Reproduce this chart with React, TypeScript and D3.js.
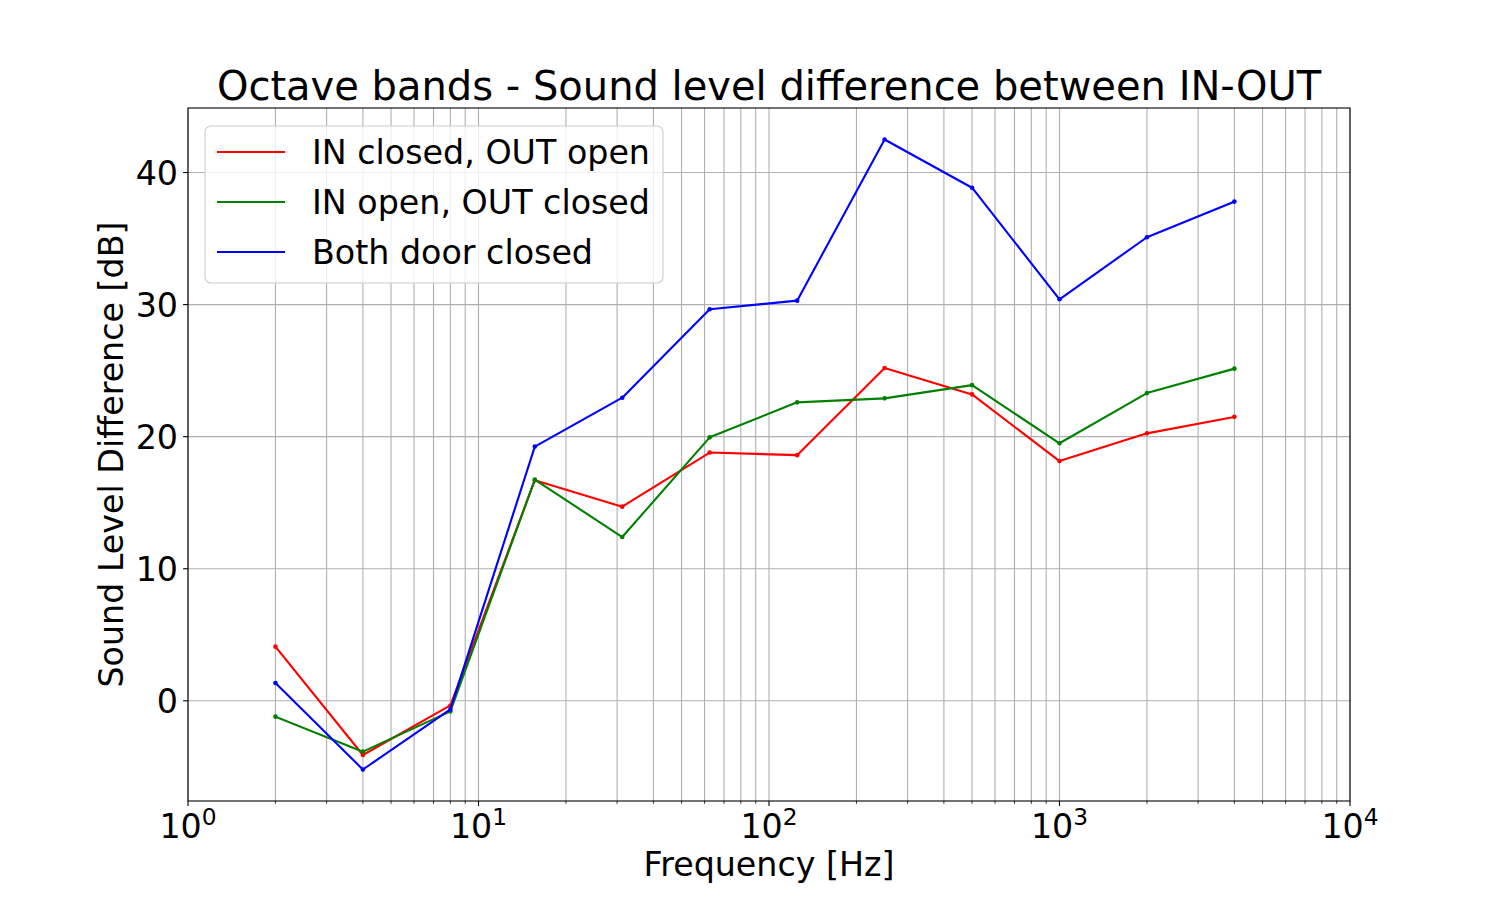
import React, { useEffect, useRef } from 'react';
import * as d3 from 'd3';

// Octave band centre frequencies [Hz]
const frequencies = [2, 4, 8, 15.625, 31.25, 62.5, 125, 250, 500, 1000, 2000, 4000];

// Sound level difference [dB] per configuration
const inClosedOutOpen = [4.1, -4.1, -0.35, 16.7, 14.7, 18.8, 18.6, 25.2, 23.2, 18.15, 20.25, 21.5];
const inOpenOutClosed = [-1.2, -3.85, -0.8, 16.75, 12.4, 19.95, 22.6, 22.9, 23.9, 19.5, 23.3, 25.15];
const bothClosed = [1.35, -5.2, -0.65, 19.25, 22.95, 29.65, 30.3, 42.5, 38.85, 30.4, 35.1, 37.8];

const seriesNames = ['IN closed, OUT open', 'IN open, OUT closed', 'Both door closed'];
const seriesColors = ['#ff0000', '#008000', '#0000ff'];

const xDecades = [1, 10, 100, 1000, 10000];
const yTicks = [0, 10, 20, 30, 40];

const title = 'Octave bands - Sound level difference between IN-OUT';
const xLabel = 'Frequency [Hz]';
const yLabel = 'Sound Level Difference [dB]';

interface Point {
    f: number;
    v: number;
}

const Chart: React.FC = () => {
    const ref = useRef<SVGSVGElement>(null);
    const width = 1500;
    const height = 900;
    const margin = { top: 108, right: 150, bottom: 99, left: 188 };
    const w = width - margin.left - margin.right;
    const h = height - margin.top - margin.bottom;
    const font = '"DejaVu Sans", Verdana, sans-serif';

    useEffect(() => {
        draw();
        //eslint-disable-next-line
    }, []);

    const draw = () => {
        const all = [...inClosedOutOpen, ...inOpenOutClosed, ...bothClosed];
        const lo = d3.min(all) as number;
        const hi = d3.max(all) as number;
        const pad = (hi - lo) * 0.05;

        const x = d3.scaleLog().domain([1, 10000]).range([0, w]);
        const y = d3.scaleLinear().domain([lo - pad, hi + pad]).range([h, 0]);

        const svg = d3.select(ref.current);
        svg.selectAll('*').remove();

        svg.append('rect').attr('width', width).attr('height', height).attr('fill', '#fff');

        const g = svg.append('g').attr('transform', `translate(${margin.left},${margin.top})`);

        // minor + major vertical grid
        const minorTicks: number[] = [];
        xDecades.slice(0, -1).forEach(d => {
            for (let k = 2; k <= 9; k++) minorTicks.push(d * k);
        });
        g.selectAll('.vgrid')
            .data([...minorTicks, ...xDecades])
            .enter().append('line')
            .attr('x1', d => x(d)).attr('x2', d => x(d))
            .attr('y1', 0).attr('y2', h)
            .attr('stroke', '#b0b0b0')
            .attr('stroke-width', 1.1);

        g.selectAll('.hgrid')
            .data(yTicks)
            .enter().append('line')
            .attr('x1', 0).attr('x2', w)
            .attr('y1', d => y(d)).attr('y2', d => y(d))
            .attr('stroke', '#b0b0b0')
            .attr('stroke-width', 1.1);

        // series
        const line = d3.line<Point>()
            .x(d => x(d.f))
            .y(d => y(d.v));

        [inClosedOutOpen, inOpenOutClosed, bothClosed].forEach((vals, i) => {
            const pts: Point[] = frequencies.map((f, j) => ({ f, v: vals[j] }));
            g.append('path')
                .datum(pts)
                .attr('fill', 'none')
                .attr('stroke', seriesColors[i])
                .attr('stroke-width', 2.1)
                .attr('stroke-linejoin', 'round')
                .attr('stroke-linecap', 'square')
                .attr('d', line);
            g.selectAll(null)
                .data(pts)
                .enter().append('circle')
                .attr('cx', d => x(d.f))
                .attr('cy', d => y(d.v))
                .attr('r', 2.3)
                .attr('fill', seriesColors[i]);
        });

        // spines
        g.append('rect')
            .attr('width', w).attr('height', h)
            .attr('fill', 'none')
            .attr('stroke', '#000')
            .attr('stroke-width', 1.1);

        // x ticks
        g.selectAll('.xmaj')
            .data(xDecades)
            .enter().append('line')
            .attr('x1', d => x(d)).attr('x2', d => x(d))
            .attr('y1', h).attr('y2', h + 4.9)
            .attr('stroke', '#000').attr('stroke-width', 1.1);
        g.selectAll('.xmin')
            .data(minorTicks)
            .enter().append('line')
            .attr('x1', d => x(d)).attr('x2', d => x(d))
            .attr('y1', h).attr('y2', h + 2.8)
            .attr('stroke', '#000').attr('stroke-width', 0.8);

        const xl = g.selectAll('.xlab')
            .data(xDecades)
            .enter().append('text')
            .attr('x', d => x(d))
            .attr('y', h + 37)
            .attr('text-anchor', 'middle')
            .attr('font-family', font)
            .attr('font-size', 33.3)
            .attr('fill', '#000');
        xl.append('tspan').text('10');
        xl.append('tspan')
            .attr('dy', -13)
            .attr('font-size', 23.3)
            .text(d => String(Math.round(Math.log10(d))));

        // y ticks
        g.selectAll('.ytick')
            .data(yTicks)
            .enter().append('line')
            .attr('x1', -4.9).attr('x2', 0)
            .attr('y1', d => y(d)).attr('y2', d => y(d))
            .attr('stroke', '#000').attr('stroke-width', 1.1);
        g.selectAll('.ylab')
            .data(yTicks)
            .enter().append('text')
            .attr('x', -10)
            .attr('y', d => y(d))
            .attr('dy', '0.36em')
            .attr('text-anchor', 'end')
            .attr('font-family', font)
            .attr('font-size', 33.3)
            .attr('fill', '#000')
            .text(d => d);

        // labels
        svg.append('text')
            .attr('x', margin.left + w / 2)
            .attr('y', 100)
            .attr('text-anchor', 'middle')
            .attr('font-family', font)
            .attr('font-size', 40)
            .text(title);
        svg.append('text')
            .attr('x', margin.left + w / 2)
            .attr('y', 876)
            .attr('text-anchor', 'middle')
            .attr('font-family', font)
            .attr('font-size', 33.3)
            .text(xLabel);
        svg.append('text')
            .attr('transform', `translate(123,${margin.top + h / 2}) rotate(-90)`)
            .attr('text-anchor', 'middle')
            .attr('font-family', font)
            .attr('font-size', 33.3)
            .text(yLabel);

        // legend
        const lg = g.append('g').attr('transform', 'translate(17,18)');
        lg.append('rect')
            .attr('width', 458).attr('height', 157)
            .attr('rx', 6).attr('ry', 6)
            .attr('fill', '#fff').attr('fill-opacity', 0.8)
            .attr('stroke', '#cccccc').attr('stroke-width', 1.1);
        seriesNames.forEach((name, i) => {
            const ry = 26 + i * 50;
            lg.append('line')
                .attr('x1', 12).attr('x2', 80)
                .attr('y1', ry).attr('y2', ry)
                .attr('stroke', seriesColors[i])
                .attr('stroke-width', 2.1);
            lg.append('text')
                .attr('x', 107)
                .attr('y', ry + 12)
                .attr('font-family', font)
                .attr('font-size', 33.3)
                .attr('fill', '#000')
                .text(name);
        });
    };

    return <svg ref={ref} width={width} height={height} style={{ position: 'absolute', left: 0, top: 0 }}></svg>;
};

export default function App() {
    return <Chart />;
}
